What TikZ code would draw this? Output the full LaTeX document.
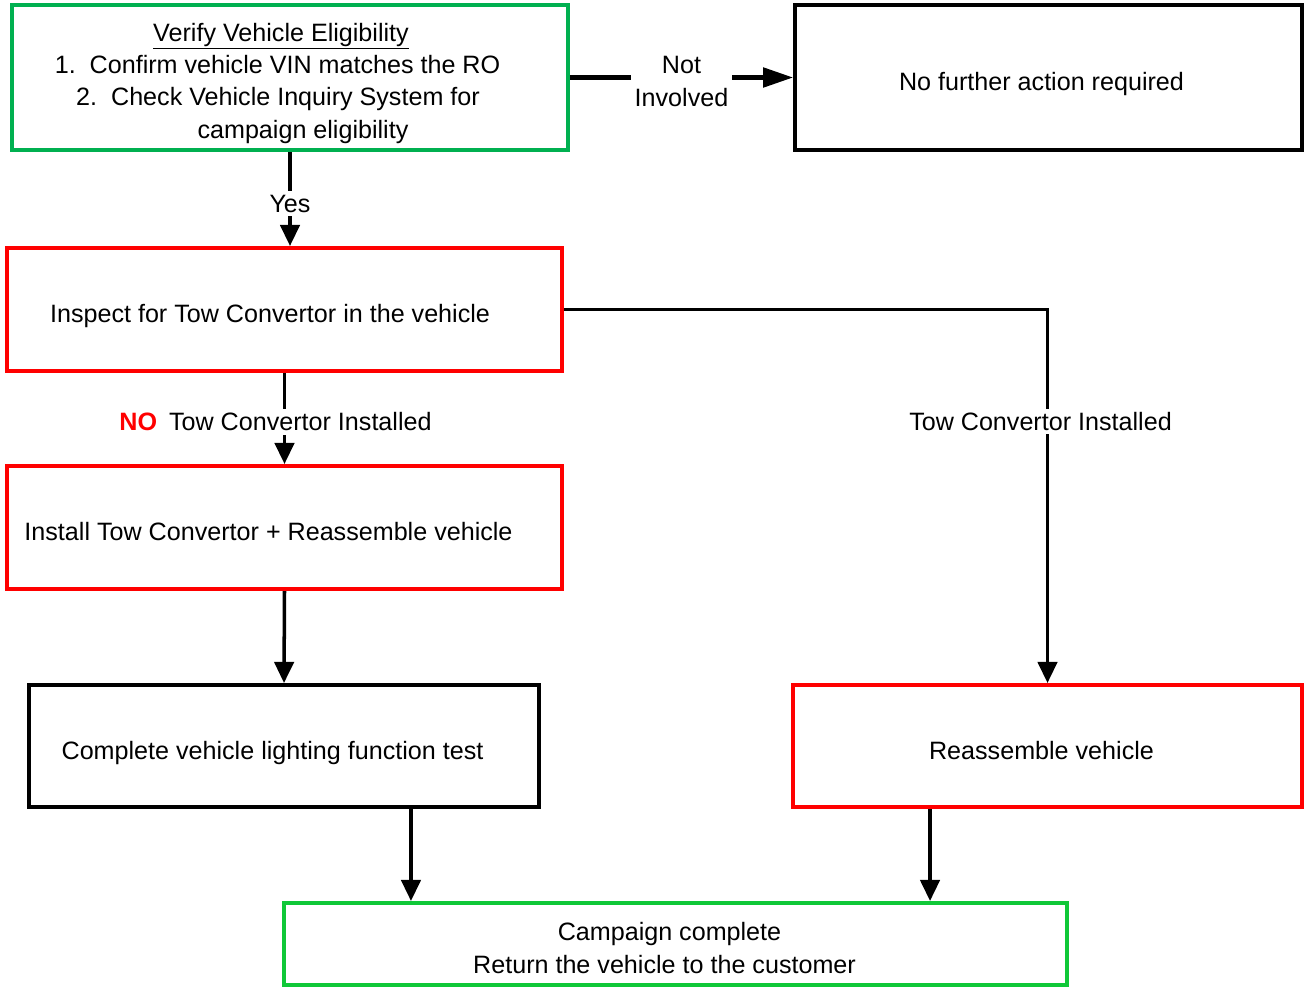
\documentclass[tikz,border=0pt]{standalone}
\usepackage{fontspec}
\setmainfont{Liberation Sans}
\usetikzlibrary{ % tikz packages
    positioning,
    arrows.meta
}
\definecolor{eligGreen}{RGB}{0,176,80}
\definecolor{doneGreen}{RGB}{16,200,56}
\tikzset{stepbox/.style={
    draw=black,
    line width=2.3pt,
    align=center,
    inner sep=0pt
}}
\tikzset{one line/.style={
    text height=15pt,
    text depth=0pt
}}
\tikzset{label on/.style={
    fill=white,
    inner sep=2pt,
    align=center
}}
\tikzset{>={Triangle[length=12pt,width=11pt]}}

\begin{document}
\begin{tikzpicture}[x=0.02cm,y=-0.02cm,line width=2pt,
        font=\fontsize{14.3}{18.4}\selectfont]
        \useasboundingbox (0,0) rectangle (1304,987);

        \node[stepbox,draw=eligGreen,minimum width=11.12cm,minimum height=2.9cm] (elig) at (290,77.5)
            {\rule{0pt}{16.8pt}\underline{Verify Vehicle Eligibility}\rule{0.36cm}{0pt}\\
             1.\ \ Confirm vehicle VIN matches the RO\rule{0.5cm}{0pt}\\
             2.\ \ Check Vehicle Inquiry System for\rule{0.48cm}{0pt}\\
             \rule{0.52cm}{0pt}campaign eligibility};
        \node[stepbox,one line,minimum width=10.14cm,minimum height=2.9cm] (none) at (1048.5,77.5)
            {No further action required\hspace*{0.28cm}};

        \node[stepbox,one line,draw=red,minimum width=11.1cm,minimum height=2.46cm] (inspect) at (284.5,309.5)
            {Inspect for Tow Convertor in the vehicle\hspace*{0.58cm}};
        \node[stepbox,one line,draw=red,minimum width=11.1cm,minimum height=2.46cm] (install) at (284.5,527.5)
            {Install Tow Convertor + Reassemble vehicle\hspace*{0.64cm}};

        \node[stepbox,one line,minimum width=10.2cm,minimum height=2.44cm] (light) at (284,746)
            {Complete vehicle lighting function test\hspace*{0.46cm}};
        \node[stepbox,one line,draw=red,minimum width=10.18cm,minimum height=2.44cm] (reasm) at (1047.5,746)
            {Reassemble vehicle\hspace*{0.24cm}};

        \node[stepbox,draw=doneGreen,minimum width=15.66cm,minimum height=1.64cm] (done) at (675.5,944)
            {\rule{0pt}{14.8pt}Campaign complete\rule{0.24cm}{0pt}\\ Return the vehicle to the customer\rule{0.44cm}{0pt}};

        \draw[->] (elig.south) -- node[label on,pos=0.55] (yes) {Yes} (elig.south |- inspect.north);
        \draw[->,>={Triangle[length=17pt,width=11pt]},line width=2.3pt]
            (elig.east) -- node[label on,yshift=-0.08cm] (notinv) {Not\\Involved} (none.west);

        \draw[->] (inspect.south) -- node[label on,xshift=-0.18cm,yshift=-0.07cm] (notow)
            {\textcolor{red}{\textbf{NO}}\hspace{0.24cm}Tow Convertor Installed} (install.north);
        \draw[->] (inspect.east) -| node[label on,pos=0.65,xshift=-0.14cm] (tow)
            {Tow Convertor Installed} (reasm.north);

        \draw[->] (install.south) -- (light.north);
        \draw[->] ([xshift=2.54cm]light.south) -- ([xshift=2.54cm]light.south |- done.north);
        \draw[->] ([xshift=-2.35cm]reasm.south) -- ([xshift=-2.35cm]reasm.south |- done.north);
    \end{tikzpicture}
\end{document}
